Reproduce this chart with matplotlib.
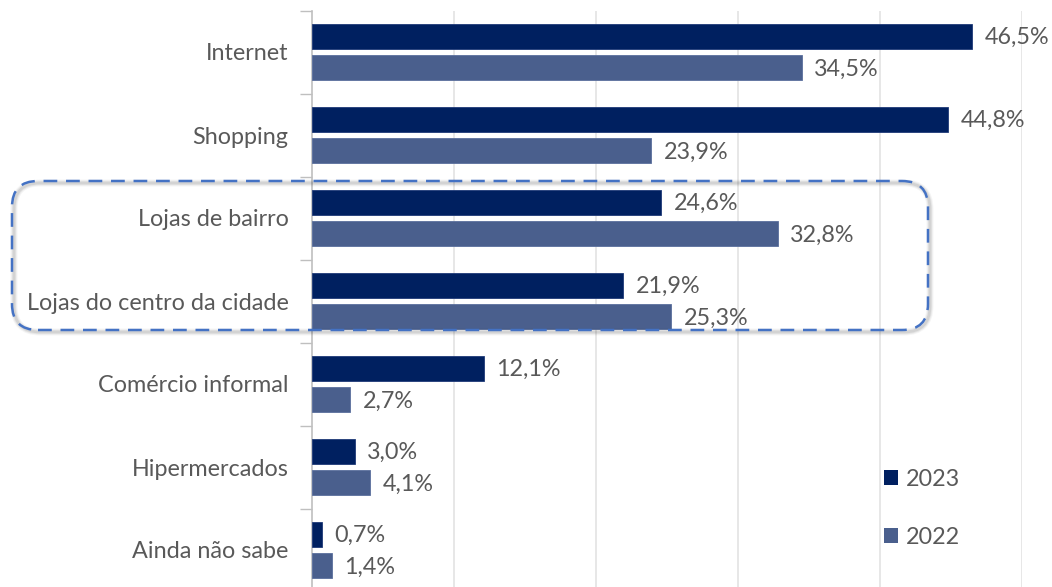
import matplotlib
matplotlib.use("Agg")
import matplotlib.pyplot as plt
from matplotlib.patches import FancyBboxPatch, Patch
from matplotlib.transforms import IdentityTransform
import numpy as np

categories = ["Internet", "Shopping", "Lojas de bairro", "Lojas do centro da cidade",
              "Comércio informal", "Hipermercados", "Ainda não sabe"]
v2023 = [46.5, 44.8, 24.6, 21.9, 12.1, 3.0, 0.7]
v2022 = [34.5, 23.9, 32.8, 25.3, 2.7, 4.1, 1.4]
series_labels = ["2023", "2022"]

c2023 = "#002060"
c2022 = "#4A5F8D"
txt = "#595959"
plt.rcParams['font.family'] = ['Lato', 'DejaVu Sans']
FS = 16.8

W, H = 1052, 587
fig = plt.figure(figsize=(W/100, H/100), dpi=100)
ax = fig.add_axes([312/W, 1-591.5/H, 710/W, 581/H])

y = np.arange(len(categories))
bh = 0.30
off = 0.19
b1 = ax.barh(y - off, v2023, height=bh, color=c2023, edgecolor="#1F3A78", linewidth=0.6, zorder=3)
b2 = ax.barh(y + off, v2022, height=bh, color=c2022, edgecolor="#5A6F9D", linewidth=0.6, zorder=3)

def fmt(v):
    return f"{v:.1f}%".replace('.', ',')

for bars, vals in ((b1, v2023), (b2, v2022)):
    for rect, v in zip(bars, vals):
        ax.annotate(fmt(v), (v, rect.get_y() + rect.get_height()/2),
                    xytext=(9, -1), textcoords="offset points",
                    ha="left", va="center", fontsize=FS, color=txt, zorder=4)

ax.set_xlim(0, 50)
ax.set_ylim(len(categories) - 0.5, -0.5)
ax.set_xticks([10, 20, 30, 40, 50])
ax.tick_params(axis='x', length=0, labelbottom=False)
ax.xaxis.grid(True, color="#E3E3E3", linewidth=1.2, zorder=0)
ax.set_axisbelow(True)

ax.set_yticks(np.arange(-0.5, len(categories), 1.0))
ax.set_yticklabels([])
ax.tick_params(axis='y', which='major', length=9, color="#BFBFBF", width=1)
ax.set_yticks(y, minor=True)
ax.set_yticklabels(categories, minor=True, fontsize=FS, color=txt)
ax.tick_params(axis='y', which='minor', length=0, pad=17)

for s in ["top", "right", "bottom"]:
    ax.spines[s].set_visible(False)
ax.spines["left"].set_color("#BFBFBF")
ax.spines["left"].set_linewidth(1.2)

# legend
handles = [Patch(facecolor=c2023), Patch(facecolor=c2022)]
fig.legend(handles, series_labels, loc="upper left", bbox_to_anchor=(872/W, 1-457/H),
           frameon=False, fontsize=FS, labelcolor=txt, handlelength=0.62, handleheight=0.62,
           handletextpad=0.35, labelspacing=1.6, borderpad=0)

# highlight dashed rounded box with soft shadow
x0, y0, x1, y1 = 12, H-330, 928, H-181
for k, a in ((5, 0.04), (3.5, 0.06), (2, 0.08)):
    sh = FancyBboxPatch((x0+2, y0-2), x1-x0, y1-y0, boxstyle="round,pad=0,rounding_size=26",
                        transform=IdentityTransform(), fill=False, edgecolor="black",
                        linewidth=k, alpha=a)
    fig.patches.append(sh)
box = FancyBboxPatch((x0, y0), x1-x0, y1-y0, boxstyle="round,pad=0,rounding_size=26",
                     transform=IdentityTransform(), fill=False, edgecolor="#4472C4",
                     linewidth=1.8, linestyle=(0, (5.5, 3.5)))
fig.patches.append(box)

fig.savefig("out.png", dpi=100)
